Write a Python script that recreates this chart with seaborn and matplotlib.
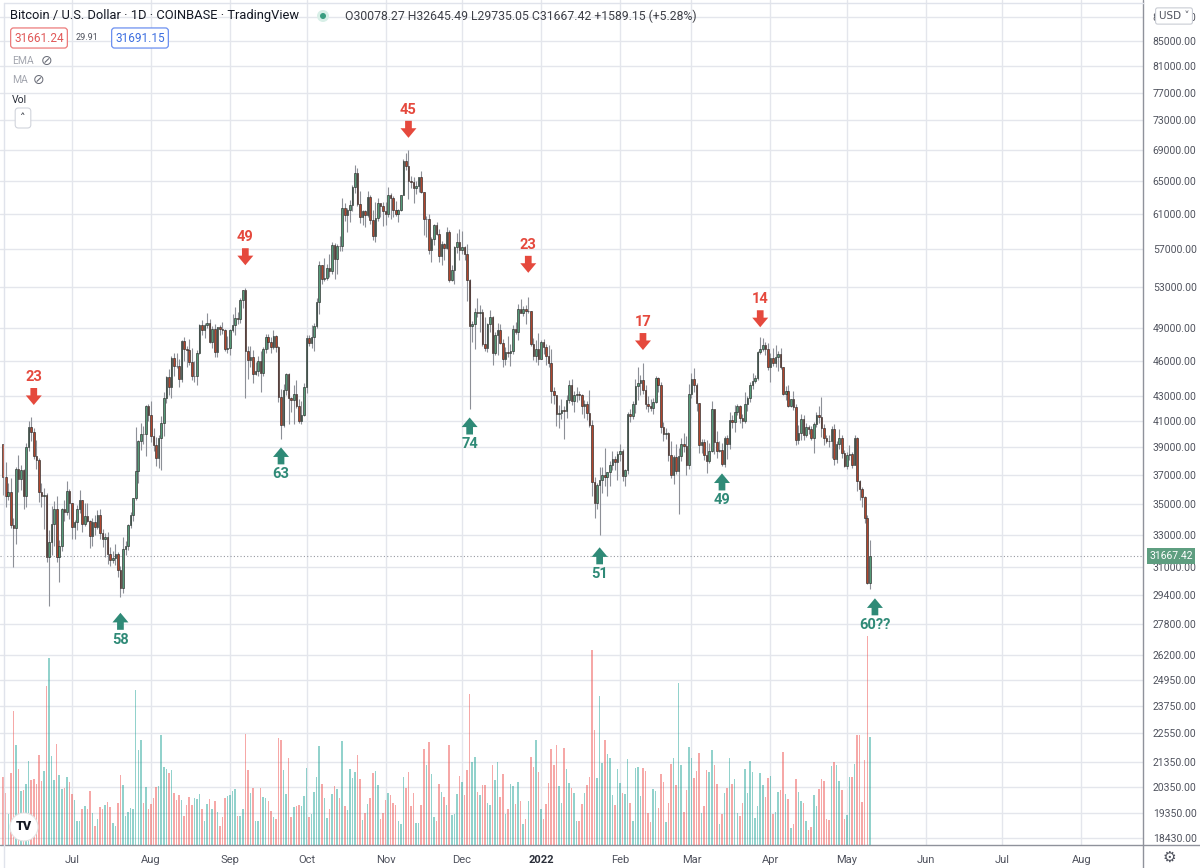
import numpy as np
import pandas as pd
import seaborn as sns
import matplotlib
matplotlib.use("Agg")
import matplotlib.dates as mdates
from matplotlib import pyplot as plt
from matplotlib.lines import Line2D
from matplotlib.patches import Ellipse
from matplotlib.ticker import NullLocator

# BTC/USD daily candles (Coinbase), prices in thousands of USD, 2021-06-04 .. 2022-05-10
start_day = "2021-06-04"
first_open = 39.24

closes = [
    # Jun 2021
    36.85, 35.52, 35.80, 33.58, 33.41, 37.39, 36.69, 37.34, 35.55, 39.02, 40.53, 40.17, 38.35, 38.10,
    35.82, 35.50, 35.60, 31.62, 32.51, 33.69, 34.67, 31.60, 32.26, 34.66, 34.43, 35.87, 35.04,
    # Jul
    33.51, 33.80, 34.67, 35.29, 33.69, 34.22, 33.87, 32.88, 33.81, 33.51, 34.26, 33.10, 32.72, 32.82,
    31.78, 31.42, 31.52, 31.78, 30.82, 29.79, 32.11, 32.30, 33.58, 34.28, 35.38, 37.27, 39.46, 40.02,
    40.01, 42.21, 41.49,
    # Aug
    39.86, 39.15, 38.21, 39.73, 40.87, 42.84, 44.61, 43.82, 46.29, 45.60, 45.57, 44.43, 47.83, 47.11,
    47.02, 45.94, 44.69, 44.71, 46.76, 49.34, 48.87, 49.29, 49.51, 47.71, 48.98, 46.86, 49.08, 48.92,
    48.81, 47.05, 47.16,
    # Sep
    48.85, 49.28, 49.99, 49.93, 51.78, 52.69, 46.88, 46.07, 46.39, 44.85, 45.17, 46.04, 44.95, 47.11,
    48.15, 47.76, 47.31, 48.30, 47.26, 42.99, 40.70, 43.56, 44.88, 42.84, 42.72, 43.21, 42.20, 41.03,
    41.52, 43.79,
    # Oct
    48.14, 47.67, 48.23, 49.24, 51.51, 55.34, 53.81, 53.94, 54.97, 54.66, 57.49, 56.01, 57.37, 57.36,
    61.67, 60.88, 61.53, 62.04, 64.30, 66.00, 62.21, 60.69, 61.30, 60.86, 63.08, 60.33, 58.46, 60.59,
    62.27, 61.89, 61.34,
    # Nov
    61.00, 63.23, 62.94, 61.43, 61.01, 61.53, 63.32, 67.55, 66.94, 64.94, 64.83, 64.16, 64.40, 65.50,
    63.61, 60.37, 60.37, 56.90, 58.12, 59.75, 58.71, 56.31, 57.58, 57.17, 58.95, 53.74, 54.76, 57.29,
    57.83, 56.99,
    # Dec
    57.24, 56.51, 53.71, 49.20, 49.40, 50.58, 50.50, 50.57, 47.59, 47.16, 49.38, 50.10, 46.71, 48.37,
    48.86, 47.63, 46.18, 46.84, 46.70, 46.88, 48.94, 48.62, 50.82, 50.43, 50.80, 50.70, 50.70, 47.54,
    46.46, 47.12, 46.21,
    # Jan 2022
    47.74, 47.31, 46.43, 45.83, 43.43, 43.08, 41.55, 41.68, 41.87, 41.82, 42.74, 43.92, 42.59, 43.10,
    43.18, 43.11, 42.25, 42.38, 41.68, 40.70, 36.48, 35.08, 36.28, 36.67, 36.96, 36.82, 37.18, 37.71,
    38.17, 37.92, 38.50,
    # Feb
    38.73, 36.90, 37.31, 41.57, 41.41, 42.41, 43.84, 44.09, 44.38, 43.54, 42.38, 42.20, 42.06, 42.55,
    44.58, 43.96, 40.55, 40.00, 40.11, 38.40, 37.00, 38.26, 37.27, 38.35, 39.22, 39.12, 37.71, 43.19,
    # Mar
    44.42, 43.92, 42.45, 39.15, 39.40, 38.42, 37.99, 38.74, 41.94, 39.42, 38.73, 38.81, 37.78, 39.67,
    39.28, 41.11, 40.92, 41.76, 42.23, 41.26, 41.00, 42.36, 42.89, 43.96, 44.32, 44.52, 46.83, 47.12,
    47.44, 47.06, 45.52,
    # Apr
    46.28, 45.81, 46.41, 46.62, 45.51, 43.17, 43.44, 42.25, 42.75, 42.16, 39.53, 40.08, 41.15, 39.94,
    40.55, 40.39, 39.68, 40.80, 41.50, 41.37, 40.48, 39.71, 39.47, 39.45, 40.43, 38.11, 39.24, 39.74,
    38.60, 37.64,
    # May
    38.47, 38.52, 37.72, 39.69, 36.55, 36.01, 35.47, 34.06, 30.07827, 31.66742,
]

highs = [
    39.29, 37.90, 36.45, 36.79, 34.07, 37.53, 38.40, 37.68, 37.44, 39.32, 41.00, 41.30, 40.50, 39.53,
    38.20, 36.43, 36.08, 35.75, 33.30, 34.88, 35.20, 35.51, 32.66, 34.73, 35.27, 36.60, 36.04,
    35.04, 33.94, 34.93, 35.95, 35.29, 35.06, 35.07, 33.92, 34.06, 34.26, 34.60, 34.67, 33.33, 33.11,
    33.18, 32.25, 31.95, 32.42, 31.90, 31.06, 32.85, 32.59, 33.64, 34.48, 35.40, 40.55, 39.54, 40.90,
    40.65, 42.32, 42.40,
    42.60, 40.45, 39.77, 39.97, 41.39, 43.39, 44.70, 45.31, 46.45, 46.70, 46.75, 46.20, 47.90, 48.15,
    47.40, 48.05, 47.15, 45.99, 47.04, 49.38, 49.78, 49.51, 50.50, 49.86, 49.25, 49.36, 49.15, 49.31,
    49.62, 48.92, 48.25,
    48.96, 50.37, 51.04, 50.54, 51.90, 52.78, 52.92, 47.35, 47.34, 47.03, 45.95, 46.43, 46.88, 47.26,
    48.48, 48.49, 48.17, 48.80, 48.36, 47.36, 43.60, 44.00, 44.97, 45.00, 42.99, 43.94, 44.35, 42.80,
    42.60, 44.12,
    48.35, 48.35, 49.28, 49.50, 51.89, 55.75, 55.33, 56.10, 55.47, 56.50, 57.82, 57.69, 57.58, 58.54,
    62.93, 62.35, 61.72, 62.65, 64.49, 67.00, 66.64, 63.73, 61.50, 61.48, 63.71, 63.28, 61.50, 62.48,
    62.94, 62.33, 62.43,
    62.42, 64.30, 63.52, 63.12, 62.59, 61.59, 63.33, 67.79, 68.53, 69.00, 65.60, 65.47, 64.97, 65.50,
    66.29, 63.60, 60.79, 60.96, 58.37, 59.86, 60.03, 59.29, 57.89, 57.72, 59.45, 59.20, 55.30, 57.40,
    58.87, 59.25,
    59.08, 57.40, 57.60, 53.87, 49.70, 50.90, 51.93, 51.20, 50.80, 50.10, 49.50, 50.78, 50.20, 48.65,
    49.50, 49.40, 47.99, 47.30, 48.30, 47.52, 49.30, 49.58, 51.36, 51.81, 51.17, 51.28, 52.07, 50.70,
    48.10, 47.90, 48.55,
    47.93, 47.98, 47.57, 47.50, 47.07, 43.75, 43.14, 42.30, 42.80, 42.25, 43.10, 44.35, 44.45, 43.45,
    43.80, 43.48, 43.18, 42.69, 42.60, 43.50, 41.10, 36.85, 36.45, 37.55, 37.55, 38.92, 37.23, 37.99,
    38.72, 38.34, 38.74,
    39.27, 38.86, 37.40, 41.73, 41.95, 42.65, 44.50, 45.50, 44.80, 45.82, 43.95, 43.00, 42.75, 42.88,
    44.76, 44.60, 44.20, 40.98, 40.47, 40.15, 39.45, 38.47, 39.25, 38.98, 39.73, 40.07, 39.87, 44.00,
    44.95, 45.40, 44.10, 42.50, 39.62, 39.65, 39.55, 39.36, 42.60, 41.94, 40.25, 39.48, 39.30, 39.88,
    39.90, 41.70, 41.48, 42.31, 42.40, 42.28, 41.55, 43.35, 43.00, 44.24, 45.00, 44.79, 46.92, 48.20,
    48.10, 47.70, 47.60,
    46.70, 47.20, 47.45, 46.90, 47.20, 45.51, 43.90, 43.97, 42.80, 43.41, 42.42, 40.70, 41.55, 41.50,
    40.86, 40.70, 40.60, 40.98, 41.75, 42.20, 42.98, 40.80, 39.97, 39.93, 40.61, 40.78, 39.45, 40.38,
    39.90, 38.80,
    38.68, 39.15, 38.65, 39.90, 39.82, 36.63, 36.13, 35.50, 34.24, 32.64549,
]

lows = [
    35.57, 34.80, 35.26, 33.41, 31.00, 32.40, 35.80, 35.94, 34.63, 34.76, 38.73, 39.51, 38.12, 37.40,
    35.15, 34.82, 33.35, 31.33, 28.80, 31.70, 32.30, 31.28, 30.15, 32.00, 33.88, 34.24, 34.00,
    32.71, 32.70, 33.31, 34.38, 33.13, 33.57, 33.78, 32.13, 32.26, 33.00, 33.33, 32.70, 32.24, 31.60,
    31.16, 31.05, 31.22, 31.11, 30.44, 29.30, 29.48, 31.71, 32.02, 33.43, 33.88, 35.25, 36.40, 38.81,
    39.25, 38.33, 41.06,
    39.42, 38.70, 37.62, 37.51, 37.34, 39.87, 42.48, 43.10, 42.84, 44.70, 45.37, 43.80, 44.24, 45.98,
    45.53, 45.68, 44.40, 44.22, 43.96, 46.66, 48.33, 48.12, 49.07, 47.61, 47.16, 46.34, 46.42, 48.39,
    48.46, 46.89, 46.71,
    46.55, 48.67, 48.40, 49.42, 49.50, 50.94, 42.84, 44.42, 45.50, 44.16, 44.77, 44.74, 43.40, 44.70,
    46.75, 47.06, 46.74, 47.05, 46.86, 42.51, 39.60, 40.55, 43.10, 40.76, 41.70, 40.80, 42.09, 40.88,
    40.75, 41.41,
    43.30, 47.39, 47.14, 46.95, 49.07, 50.41, 53.36, 53.69, 53.71, 54.10, 54.42, 53.88, 54.33, 56.83,
    56.85, 60.20, 58.96, 60.12, 61.35, 63.50, 62.00, 60.00, 59.70, 59.52, 60.66, 59.90, 58.00, 57.82,
    60.16, 60.70, 59.60,
    59.71, 60.71, 60.38, 60.71, 60.72, 60.10, 61.38, 63.30, 66.33, 62.82, 64.10, 62.33, 63.40, 63.60,
    63.50, 58.62, 58.40, 56.55, 55.63, 57.47, 58.60, 55.65, 55.36, 55.87, 57.00, 53.55, 53.65, 53.35,
    56.65, 55.88,
    56.48, 55.90, 51.68, 42.00, 47.73, 47.10, 50.04, 48.64, 47.33, 46.90, 46.80, 48.66, 45.70, 46.58,
    46.60, 47.52, 45.50, 45.65, 46.40, 45.58, 46.63, 48.45, 47.95, 50.42, 50.19, 49.44, 50.46, 47.33,
    46.10, 45.90, 45.68,
    46.21, 46.65, 45.70, 45.51, 42.50, 42.42, 40.61, 40.50, 41.20, 39.65, 41.27, 42.45, 42.31, 41.73,
    42.57, 42.70, 41.55, 41.25, 41.10, 40.55, 35.50, 34.05, 34.65, 32.95, 35.70, 36.25, 35.51, 36.20,
    37.32, 37.36, 36.63,
    38.01, 36.60, 36.25, 37.05, 40.98, 41.15, 41.65, 42.67, 43.15, 43.20, 42.00, 41.75, 41.85, 41.55,
    42.43, 43.33, 40.10, 39.45, 39.65, 38.00, 36.80, 36.35, 37.05, 34.30, 38.02, 38.63, 37.00, 37.45,
    42.85, 43.35, 41.85, 38.55, 38.60, 38.10, 37.15, 37.85, 38.66, 38.53, 38.23, 38.67, 37.60, 37.55,
    38.12, 38.90, 40.50, 40.20, 41.52, 40.90, 40.48, 40.90, 41.85, 42.55, 43.58, 44.10, 44.40, 46.64,
    46.95, 46.60, 45.20,
    44.22, 45.60, 45.53, 45.12, 45.35, 43.13, 42.74, 42.12, 42.12, 41.88, 39.20, 39.25, 39.55, 39.57,
    39.77, 40.00, 39.55, 38.55, 40.57, 40.85, 39.75, 39.19, 39.30, 39.00, 38.20, 37.70, 37.88, 38.88,
    38.20, 37.58,
    37.40, 38.05, 37.52, 37.68, 35.86, 35.26, 34.77, 33.71, 30.03, 29.73505,
]

volumes = [
    68, 52, 31, 72, 134, 100, 76, 54, 55, 61, 84, 65, 66, 61, 90, 64, 74, 159, 187, 89,
    65, 101, 70, 56, 57, 68, 63, 51, 45, 24, 24, 36, 39, 36, 54, 32, 19, 26, 38, 36,
    40, 43, 38, 22, 19, 42, 70, 60, 29, 33, 37, 36, 155, 95, 105, 42, 58, 36, 41, 47,
    58, 59, 110, 78, 76, 72, 75, 52, 45, 50, 45, 29, 40, 48, 40, 47, 46, 51, 36, 24,
    41, 46, 36, 44, 33, 19, 28, 47, 49, 50, 54, 56, 29, 29, 36, 111, 75, 52, 57, 24,
    24, 57, 48, 47, 44, 34, 28, 26, 107, 105, 75, 51,
    87, 28, 38, 39, 40, 39, 49, 77, 28, 31, 53, 68, 99, 61, 47, 27, 36, 51,
    59, 56, 47, 104, 39, 35, 76, 67, 73, 90, 66, 25, 32, 41, 47, 72, 74, 60, 26, 32,
    45, 52, 50, 42, 40, 24, 21, 68, 57, 73, 39, 52, 22, 22, 40, 96, 80, 103, 71, 28,
    24, 61, 53, 48, 40, 100, 30, 31, 51, 69, 63, 50, 75, 151, 83, 88, 53, 50, 60, 60,
    42, 40, 80, 65, 83, 48, 71, 31, 36, 61, 59, 41, 63, 44, 21, 26, 44, 88, 78, 105,
    73, 36, 26, 41, 62, 96, 80, 100, 59, 42, 97, 76, 62, 57, 52, 24, 24,
    41, 52, 60, 68, 195, 115, 67, 149, 82, 105, 91, 87, 50,
    40, 76, 62, 52, 51, 86, 42, 24, 77, 78, 49, 77, 74, 32, 23, 56, 54, 37, 71, 63,
    23, 42, 81, 87, 60, 162, 80, 33, 55, 98, 87, 67, 74, 92, 32, 39, 75, 73, 95, 80,
    61, 21, 31, 52, 57, 87, 61, 66, 32, 29, 42, 76, 52, 84, 73, 27, 39, 72, 60, 48,
    67, 69, 31, 33, 53, 55, 93, 51, 46, 17, 21, 66, 53, 44, 42, 24, 15, 18, 50, 39,
    56, 66, 64, 26, 25, 79, 83, 80, 64, 55, 26, 30, 68, 68, 81, 110, 110, 43, 85, 209, 108,
]

# bid / spread / ask shown under the title
bid, spread, ask = 31661.24, 29.91, 31691.15

price_ticks = [18430, 19350, 20350, 21350, 22550, 23750, 24950, 26200, 27800, 29400, 31000,
               33000, 35000, 37000, 39000, 41000, 43000, 46000, 49000, 53000, 57000, 61000,
               65000, 69000, 73000, 77000, 81000, 85000, 89000]

# hand-drawn signal arrows
red_dates = ["2021-06-16", "2021-09-07", "2021-11-10", "2021-12-27", "2022-02-10", "2022-03-28"]
red_tips = [42300, 55300, 70600, 54500, 47000, 49100]
red_labels = ["23", "49", "45", "23", "17", "14"]
green_dates = ["2021-07-20", "2021-09-21", "2021-12-04", "2022-01-24", "2022-03-13", "2022-05-12"]
green_tips = [28400, 39000, 41300, 32200, 37100, 29200]
green_labels = ["58", "63", "74", "51", "49", "60??"]

sns.set_theme(style="white")
plt.rcParams["font.family"] = ["Roboto", "DejaVu Sans"]

W, H = 1200, 868
def fx(x):
    return x / W
def fy(y):
    return 1 - y / H

close = np.array(closes) * 1000
high = np.array(highs) * 1000
low = np.array(lows) * 1000
opn = np.array([first_open] + closes[:-1]) * 1000
up = close >= opn
dates = pd.date_range(start_day, periods=len(closes), freq="D")
x = mdates.date2num(dates)

fig = plt.figure(figsize=(12, 8.68), dpi=100)
ax = fig.add_axes([0, 23 / H, 1143 / W, 845 / H])
ax2 = ax.twinx()

grid_c = "#e4e6ec"
txt_c = "#50535e"

# price pane
ax.set_yscale("log")
ax.set_ylim(18197, 91950)
x0 = mdates.date2num(pd.Timestamp("2021-07-01") - pd.Timedelta(days=28.25))
x1 = mdates.date2num(pd.Timestamp("2021-07-01") + pd.Timedelta(days=420.17))
ax.set_xlim(x0, x1)

ax.vlines(x, low, high, color="#8d9097", lw=0.8, zorder=2)
ax.bar(x, np.abs(close - opn), bottom=np.minimum(opn, close), width=0.62,
       color=np.where(up, "#559a78", "#b0452d"), edgecolor="#2b2b2b", linewidth=0.45, zorder=3)

last_close = close[-1]
ax.axhline(last_close, color="#9598a1", lw=0.8, ls=(0, (1, 2)), zorder=1)

ax.yaxis.set_minor_locator(NullLocator())
ax.set_yticks(price_ticks)
ax.set_yticklabels([f"{v:.2f}" for v in price_ticks])
ax.yaxis.tick_right()
ax.tick_params(axis="y", length=0, pad=7, labelsize=7.5, labelcolor=txt_c)

months = pd.date_range("2021-07-01", "2022-08-01", freq="MS")
ax.set_xticks(mdates.date2num(months))
ax.set_xticklabels([str(m.year) if m.month == 1 else m.strftime("%b") for m in months])
ax.tick_params(axis="x", length=0, pad=7, labelsize=8, labelcolor=txt_c)
for lab in ax.get_xticklabels():
    if lab.get_text() == "2022":
        lab.set_fontweight("bold")
        lab.set_color("#2a2e39")

ax.grid(True, which="major", color=grid_c, lw=1.0)
ax.set_axisbelow(True)
for sp in ax.spines.values():
    sp.set_visible(False)

# volume pane on top (semi-transparent, like TradingView)
ax2.bar(x, volumes, width=0.6, linewidth=0,
        color=[(38 / 255, 166 / 255, 154 / 255, 0.5) if u else (239 / 255, 83 / 255, 80 / 255, 0.5) for u in up])
ax2.set_ylim(0, 845)
ax2.set_yticks([])
for sp in ax2.spines.values():
    sp.set_visible(False)

# signal arrows
arrow_style = "simple,head_length=0.6,head_width=1.0,tail_width=0.42"
for d, p, t in zip(red_dates, red_tips, red_labels):
    xd = mdates.date2num(pd.Timestamp(d))
    ax.annotate("", xy=(xd, p), xytext=(0, 17), textcoords="offset pixels",
                arrowprops=dict(arrowstyle=arrow_style, fc="#e5493d", ec="none",
                                mutation_scale=11.5, shrinkA=0, shrinkB=0))
    ax.annotate(t, xy=(xd, p), xytext=(0, 28), textcoords="offset pixels", ha="center",
                va="center", fontsize=10.5, color="#e5493d", fontweight="semibold")
for d, p, t in zip(green_dates, green_tips, green_labels):
    xd = mdates.date2num(pd.Timestamp(d))
    ax.annotate("", xy=(xd, p), xytext=(0, -17), textcoords="offset pixels",
                arrowprops=dict(arrowstyle=arrow_style, fc="#2f8a77", ec="none",
                                mutation_scale=11.5, shrinkA=0, shrinkB=0))
    ax.annotate(t, xy=(xd, p), xytext=(0, -27), textcoords="offset pixels", ha="center",
                va="center", fontsize=10.5, color="#2f8a77", fontweight="semibold")

# last price tag on the scale
ax.annotate(f"{last_close:.2f}", xy=(1, last_close), xycoords=("axes fraction", "data"),
            xytext=(28, 0), textcoords="offset pixels", ha="center", va="center",
            color="white", fontsize=7.5, annotation_clip=False,
            bbox=dict(boxstyle="square,pad=0.25", fc="#5e9e80", ec="none"))

# frame lines
fig.add_artist(Line2D([fx(1143), fx(1143)], [0, 1], color="#8f929b", lw=1))
fig.add_artist(Line2D([0, 1], [fy(845), fy(845)], color="#8f929b", lw=1))
fig.add_artist(Line2D([fx(4), fx(4)], [0, fy(3)], color="#e0e3eb", lw=1))
fig.add_artist(Line2D([fx(4), fx(1143)], [fy(3), fy(3)], color="#e0e3eb", lw=1))

# legend header
o_last, c_last = opn[-1], close[-1]
chg = c_last - o_last
fig.text(fx(10), fy(16), "Bitcoin / U.S. Dollar \u00b7 1D \u00b7 COINBASE \u00b7 TradingView",
         ha="left", va="center", fontsize=9.3, color="#131722")
fig.add_artist(Ellipse((fx(323), fy(16)), 12 / W, 12 / H, transform=fig.transFigure,
                       fc="#d8efe7", ec="none"))
fig.add_artist(Ellipse((fx(323), fy(16)), 6 / W, 6 / H, transform=fig.transFigure,
                       fc="#3a9d80", ec="none"))
fig.text(fx(345), fy(16),
         f"O{o_last:.2f} H{high[-1]:.2f} L{low[-1]:.2f} C{c_last:.2f} "
         f"{chg:+.2f} ({chg / o_last * 100:+.2f}%)",
         ha="left", va="center", fontsize=8.8, color="#3d3f46")
fig.text(fx(39), fy(38), f"{bid:.2f}", ha="center", va="center", fontsize=8.5, color="#e05858",
         bbox=dict(boxstyle="round,pad=0.3,rounding_size=0.25", fc="white", ec="#ec7a7a", lw=0.9))
fig.text(fx(87), fy(38), f"{spread:.2f}", ha="center", va="center", fontsize=6.5, color="#50535e")
fig.text(fx(140), fy(38), f"{ask:.2f}", ha="center", va="center", fontsize=8.5, color="#3c6ee0",
         bbox=dict(boxstyle="round,pad=0.3,rounding_size=0.25", fc="white", ec="#6b8ff0", lw=0.9))
fig.text(fx(12), fy(61), "EMA", ha="left", va="center", fontsize=7.5, color="#a3a6af")
fig.text(fx(41), fy(61), "\u2298", ha="left", va="center", fontsize=10, color="#6a6d78",
         family=["DejaVu Sans"])
fig.text(fx(12), fy(80), "MA", ha="left", va="center", fontsize=7.5, color="#a3a6af")
fig.text(fx(33), fy(80), "\u2298", ha="left", va="center", fontsize=10, color="#6a6d78",
         family=["DejaVu Sans"])
fig.text(fx(12), fy(100), "Vol", ha="left", va="center", fontsize=7.5, color="#2a2e39")
fig.text(fx(23), fy(118), "\u02c4", ha="center", va="center", fontsize=8, color="#2a2e39",
         family=["DejaVu Sans"],
         bbox=dict(boxstyle="round,pad=0.45,rounding_size=0.3", fc="white", ec="#d1d4dc", lw=0.8))

# scale widgets
fig.text(fx(1174), fy(16), "USD \u02c5", ha="center", va="center", fontsize=7.5, color="#50535e",
         family=["DejaVu Sans"],
         bbox=dict(boxstyle="round,pad=0.3,rounding_size=0.2", fc="white", ec="#c9ccd4", lw=0.8))
fig.text(fx(1169), fy(857), "\u2699", ha="center", va="center", fontsize=11, color="#50535e",
         family=["DejaVu Sans"])

# TradingView badge
fig.add_artist(Ellipse((fx(24), fy(827)), 28 / W, 28 / H, transform=fig.transFigure,
                       fc="white", ec="#e3e3e3", lw=0.8, zorder=5))
fig.text(fx(24), fy(827), "TV", ha="center", va="center", fontsize=9, color="#131722",
         fontweight="heavy", zorder=6)

fig.savefig("out.png", dpi=100)
